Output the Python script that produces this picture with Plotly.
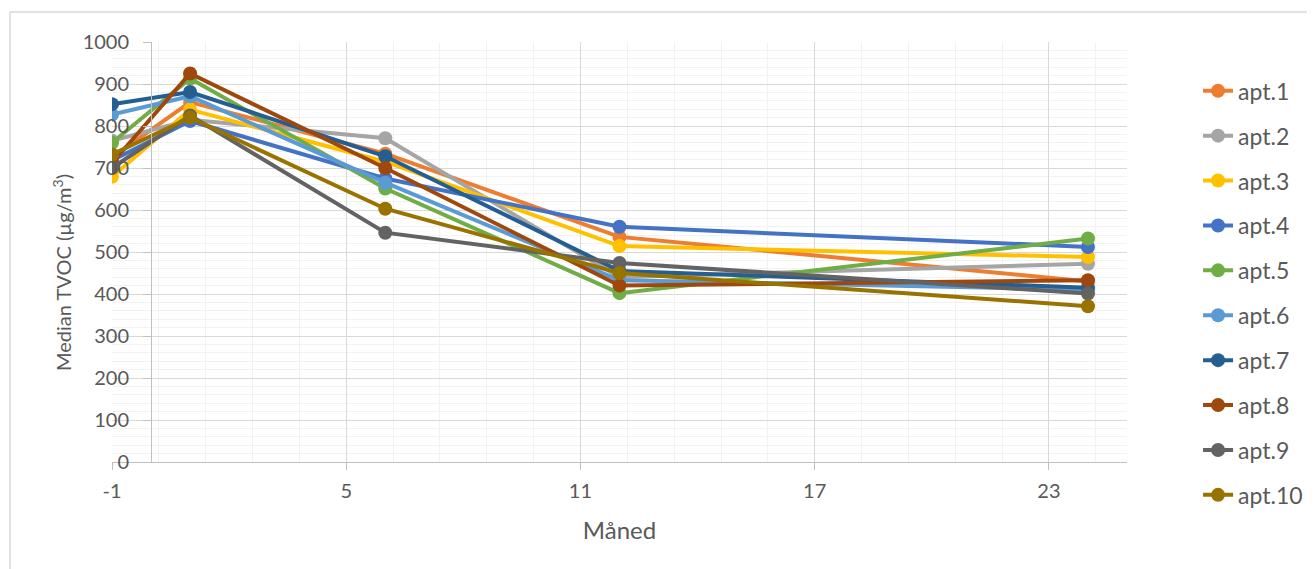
import plotly.graph_objects as go

months = [-1, 1, 6, 12, 24]
apt1 = [725, 857, 734, 536, 430]
apt2 = [765, 815, 771, 440, 472]
apt3 = [679, 839, 715, 514, 488]
apt4 = [718, 812, 675, 560, 512]
apt5 = [760, 913, 651, 402, 532]
apt6 = [827, 871, 665, 433, 410]
apt7 = [852, 881, 728, 455, 415]
apt8 = [712, 925, 700, 420, 433]
apt9 = [700, 825, 546, 474, 401]
apt10 = [732, 820, 603, 450, 371]

names = ["apt.1", "apt.2", "apt.3", "apt.4", "apt.5",
         "apt.6", "apt.7", "apt.8", "apt.9", "apt.10"]
series = [apt1, apt2, apt3, apt4, apt5, apt6, apt7, apt8, apt9, apt10]
colors = ["#ED7D31", "#A5A5A5", "#FFC000", "#4472C4", "#70AD47",
          "#5B9BD5", "#255E91", "#9E480E", "#636363", "#997300"]

x_ticks = [-1, 5, 11, 17, 23]

FONT = "Lato"
TXT = "#595959"

fig = go.Figure()
for nm, vals, col in zip(names, series, colors):
    fig.add_trace(go.Scatter(
        x=months, y=vals, name=nm, mode="lines+markers",
        line=dict(color=col, width=4),
        marker=dict(color=col, size=14),
        legendgroup=nm,
    ))

# page has an 8px body margin; plot area on page: left 112, right 1127, top 42, bottom 462
fig.update_layout(
    width=1307, height=561,
    margin=dict(l=104, r=188, t=34, b=107, autoexpand=False),
    paper_bgcolor="white", plot_bgcolor="white",
    font=dict(family=FONT, size=20, color=TXT),
    showlegend=True,
    legend=dict(
        x=1.07, xanchor="left", y=0.935, yanchor="top",
        font=dict(family=FONT, size=23, color=TXT),
        tracegroupgap=12, itemwidth=30,
        bgcolor="rgba(0,0,0,0)", maxheight=540,
    ),
    xaxis=dict(
        domain=[0, 1], automargin=False,
        range=[-1, 25], tickmode="array", tickvals=x_ticks,
        ticktext=[str(v) for v in x_ticks],
        showgrid=True, gridcolor="#D9D9D9", gridwidth=1,
        minor=dict(tick0=-1, dtick=1.2, showgrid=True, gridcolor="#F2F2F2",
                   gridwidth=1, ticks=""),
        zeroline=False,
        showline=True, linecolor="#BFBFBF", linewidth=1,
        ticks="outside", ticklen=7, tickcolor="#BFBFBF",
        tickfont=dict(family=FONT, size=20, color=TXT),
        ticklabelstandoff=4,
        title=dict(text="Måned", font=dict(family=FONT, size=24, color=TXT),
                   standoff=21),
    ),
    yaxis=dict(
        automargin=False,
        range=[0, 1000], dtick=100, tick0=0,
        anchor="free", position=1 / 26,
        showgrid=True, gridcolor="#D9D9D9", gridwidth=1,
        minor=dict(dtick=20, showgrid=True, gridcolor="#F2F2F2",
                   gridwidth=1, ticks=""),
        zeroline=False,
        showline=True, linecolor="#BFBFBF", linewidth=1,
        ticks="outside", ticklen=8, tickcolor="#BFBFBF",
        tickfont=dict(family=FONT, size=20, color=TXT),
        ticklabelstandoff=10,
    ),
)

# y-axis title as rotated text, centred where the reference has it
fig.add_annotation(
    text="Median TVOC (µg/m<sup>3</sup>)", textangle=-90,
    xref="paper", yref="paper", x=(62 - 112) / 1015, y=(462 - 273) / 420,
    xanchor="center", yanchor="middle", showarrow=False,
    font=dict(family=FONT, size=20, color=TXT),
)

# chart border (left and top edges visible)
fig.add_shape(type="rect", xref="paper", yref="paper",
              x0=(10 - 112) / 1015, x1=1.3, y0=-0.4, y1=(462 - 12) / 420,
              line=dict(color="#D9D9D9", width=1.5), fillcolor="rgba(0,0,0,0)",
              layer="below")

fig.write_html("out.html")
